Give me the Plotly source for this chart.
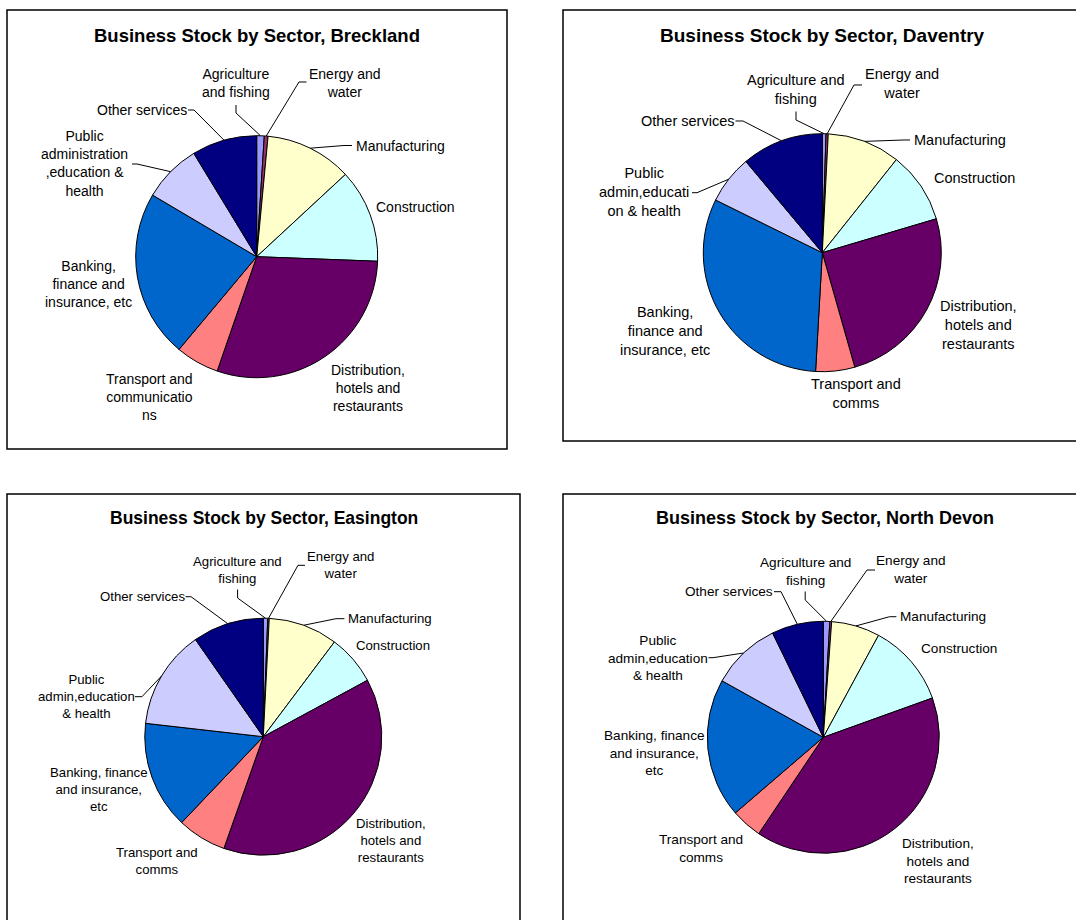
import math
import plotly.graph_objects as go

# ---------------- data ----------------
sectors = [
    "Agriculture and fishing",
    "Energy and water",
    "Manufacturing",
    "Construction",
    "Distribution, hotels and restaurants",
    "Transport and communications",
    "Banking, finance and insurance, etc",
    "Public administration, education & health",
    "Other services",
]

breckland = [1.0, 0.5, 11.6, 12.5, 29.7, 5.8, 22.4, 7.8, 8.7]
daventry = [0.5, 0.3, 9.9, 9.7, 25.2, 5.3, 31.4, 6.6, 11.1]
easington = [0.6, 0.2, 9.45, 6.85, 38.3, 6.7, 14.7, 13.5, 9.7]
north_devon = [0.9, 0.25, 6.75, 11.6, 39.9, 4.3, 19.4, 9.7, 7.2]

breckland_labels = [
    "Agriculture<br>and fishing", "Energy and<br>water", "Manufacturing", "Construction",
    "Distribution,<br>hotels and<br>restaurants", "Transport and<br>communicatio<br>ns",
    "Banking,<br>finance and<br>insurance, etc", "Public<br>administration<br>,education &<br>health",
    "Other services",
]
daventry_labels = [
    "Agriculture and<br>fishing", "Energy and<br>water", "Manufacturing", "Construction",
    "Distribution,<br>hotels and<br>restaurants", "Transport and<br>comms",
    "Banking,<br>finance and<br>insurance, etc", "Public<br>admin,educati<br>on & health",
    "Other services",
]
easington_labels = [
    "Agriculture and<br>fishing", "Energy and<br>water", "Manufacturing", "Construction",
    "Distribution,<br>hotels and<br>restaurants", "Transport and<br>comms",
    "Banking, finance<br>and insurance,<br>etc", "Public<br>admin,education<br>& health",
    "Other services",
]
north_devon_labels = list(easington_labels)

titles = [
    "Business Stock by Sector, Breckland",
    "Business Stock by Sector, Daventry",
    "Business Stock by Sector, Easington",
    "Business Stock by Sector, North Devon",
]

colors = ["#9999FF", "#993366", "#FFFFCC", "#CCFFFF", "#660066",
          "#FF8080", "#0066CC", "#CCCCFF", "#000080"]

# ---------------- layout helpers ----------------
W, H = 1076, 920
FONT = "Liberation Sans, Arial, sans-serif"


def X(px):
    return px / W


def Y(py):
    return 1 - py / H


panels = [
    dict(values=breckland, labels=breckland_labels, title=titles[0],
         box=(7, 10, 507, 449), c=(256.7, 256.7), r=121, tpos=(257, 35), tsize=18.5, fsize=14,
         lab={0: (236, 83, "center"), 1: (345.4, 82.5, "center"), 2: (354, 145.7, "left"),
              3: (415.6, 206.7, "center"), 4: (367.8, 387.8, "center"), 5: (149, 397, "center"),
              6: (88, 283.8, "center"), 7: (84.7, 163.6, "center"), 8: (142.2, 110, "center")},
         lead={0: [(236, 105), (236, 113)], 1: [(306.5, 82), (299, 82)], 2: [(352, 145.5), (344, 145.5)],
               7: [(132, 164), (137, 164)], 8: [(188, 110), (194, 110)]}),
    dict(values=daventry, labels=daventry_labels, title=titles[1],
         box=(563, 10, 1090, 441), c=(822.3, 252.7), r=119, tpos=(822.5, 35), tsize=19, fsize=14.5,
         lab={0: (796, 89.8, "center"), 1: (901.6, 83.2, "center"), 2: (912, 140, "left"),
              3: (974.6, 178.3, "center"), 4: (978.4, 325, "center"), 5: (856.1, 393.3, "center"),
              6: (665, 331.4, "center"), 7: (644, 192.4, "center"), 8: (687.7, 121, "center")},
         lead={0: [(796, 111.5), (796, 120)], 1: [(862, 85), (854, 85)], 2: [(910, 140), (904, 140)],
               7: [(692, 192.7), (697, 192.7)], 8: [(735.5, 121), (743, 121)]}),
    dict(values=easington, labels=easington_labels, title=titles[2],
         box=(7, 494, 520, 940), c=(263.3, 736.7), r=118.5, tpos=(263.5, 517.5), tsize=17.5, fsize=13.2,
         lab={0: (237.6, 569.7, "center"), 1: (340.9, 564.5, "center"), 2: (346.1, 618.7, "left"),
              3: (392.6, 645.7, "center"), 4: (390.8, 840.7, "center"), 5: (156.7, 861.2, "center"),
              6: (99.2, 789.1, "center"), 7: (86.8, 696.4, "center"), 8: (142.4, 596.7, "center")},
         lead={0: [(237.6, 589.5), (237.6, 598)], 1: [(305, 565.3), (298, 565.3)],
               2: [(344.4, 618.7), (336, 618.7)], 7: [(135, 696.7), (142, 696.7)],
               8: [(185.5, 596.7), (191, 596.7)]}),
    dict(values=north_devon, labels=north_devon_labels, title=titles[3],
         box=(563, 494, 1090, 940), c=(823.3, 737.3), r=116, tpos=(824.5, 517.5), tsize=18, fsize=13.6,
         lab={0: (805.2, 571.7, "center"), 1: (910.9, 569.8, "center"), 2: (898.1, 616.7, "left"),
              3: (959.1, 648.7, "center"), 4: (938.4, 860.7, "center"), 5: (700.8, 848.3, "center"),
              6: (654.3, 753.4, "center"), 7: (657.8, 657.8, "center"), 8: (729.2, 591.7, "center")},
         lead={0: [(805.2, 591.5), (805.2, 600)], 1: [(875, 570), (867, 570)],
               2: [(896.4, 616.7), (889.5, 616.7)], 7: [(708.5, 657.7), (713, 657.7)],
               8: [(774, 591.7), (781, 591.7)]}),
]

fig = go.Figure()
shapes = []
annotations = []

for p in panels:
    x0, y0, x1, y1 = p["box"]
    shapes.append(dict(type="rect", xref="paper", yref="paper",
                       x0=X(x0), x1=X(x1), y0=Y(y1), y1=Y(y0),
                       line=dict(color="#000000", width=1.5), fillcolor="rgba(0,0,0,0)",
                       layer="below"))
    cx, cy = p["c"]
    r = p["r"]
    fig.add_trace(go.Pie(
        labels=sectors, values=p["values"], sort=False, direction="clockwise", rotation=0,
        marker=dict(colors=colors, line=dict(color="#000000", width=1)),
        textinfo="none", hoverinfo="label+percent", showlegend=False,
        domain=dict(x=[X(cx - r), X(cx + r)], y=[Y(cy + r), Y(cy - r)]),
    ))
    # title
    tx, ty = p["tpos"]
    annotations.append(dict(xref="paper", yref="paper", x=X(tx), y=Y(ty), text="<b>%s</b>" % p["title"],
                            showarrow=False, xanchor="center", yanchor="middle",
                            font=dict(family=FONT, size=p["tsize"], color="#000000")))
    # labels and leader lines
    total = sum(p["values"])
    cum = 0.0
    for i, v in enumerate(p["values"]):
        mid = 2 * math.pi * (cum + v / 2) / total
        cum += v
        lx, ly, anc = p["lab"][i]
        annotations.append(dict(xref="paper", yref="paper", x=X(lx), y=Y(ly), text=p["labels"][i],
                                showarrow=False, xanchor=anc, yanchor="middle", align="center",
                                font=dict(family=FONT, size=p["fsize"], color="#000000")))
        if i in p["lead"]:
            ex = cx + r * math.sin(mid)
            ey = cy - r * math.cos(mid)
            pts = p["lead"][i] + [(ex, ey)]
            path = "M " + " L ".join("%.5f,%.5f" % (X(a), Y(b)) for a, b in pts)
            shapes.append(dict(type="path", xref="paper", yref="paper", path=path,
                               line=dict(color="#000000", width=1)))

fig.update_layout(
    width=W, height=H, margin=dict(l=0, r=0, t=0, b=0),
    paper_bgcolor="#FFFFFF", plot_bgcolor="#FFFFFF",
    shapes=shapes, annotations=annotations, showlegend=False,
    font=dict(family=FONT, color="#000000"),
)

fig.write_html("out.html", config={"displayModeBar": False},
               post_script="document.body.style.margin='0';document.body.style.overflow='hidden';")
